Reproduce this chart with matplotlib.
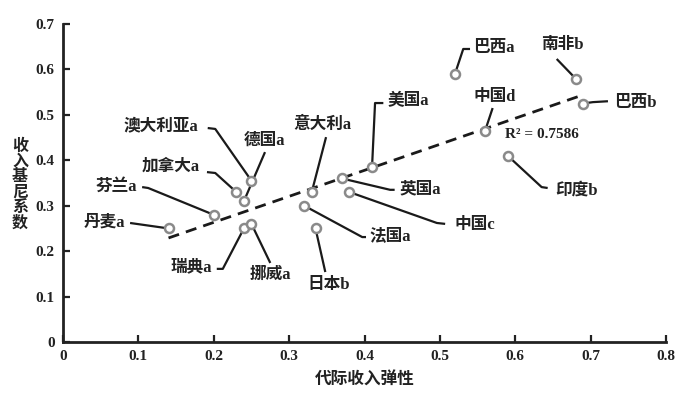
import matplotlib
matplotlib.use("Agg")
import matplotlib.pyplot as plt
import numpy as np

# ---- data ----
labels = ["丹麦a", "芬兰a", "加拿大a", "澳大利亚a", "德国a", "瑞典a", "挪威a",
          "意大利a", "英国a", "中国c", "美国a", "法国a", "日本b",
          "巴西a", "南非b", "巴西b", "中国d", "印度b"]
ige = [0.14, 0.20, 0.23, 0.25, 0.24, 0.24, 0.25,
       0.33, 0.37, 0.38, 0.41, 0.32, 0.335,
       0.52, 0.68, 0.69, 0.56, 0.59]
gini = [0.25, 0.28, 0.33, 0.355, 0.31, 0.25, 0.26,
        0.33, 0.36, 0.33, 0.385, 0.30, 0.25,
        0.59, 0.58, 0.525, 0.465, 0.41]
trend_x = [0.14, 0.69]
trend_y = [0.229, 0.544]
r2_text = "R² = 0.7586"
xticks = [0, 0.1, 0.2, 0.3, 0.4, 0.5, 0.6, 0.7, 0.8]
yticks = [0, 0.1, 0.2, 0.3, 0.4, 0.5, 0.6, 0.7]
xlabel = "代际收入弹性"
ylabel = "收入基尼系数"

# ---- label layout: (text x, text y, ha, leader-line elbow points) ----
layout = {
    "丹麦a":   (0.082, 0.262, "right",  [(0.089, 0.262)]),
    "芬兰a":   (0.098, 0.341, "right",  [(0.105, 0.341), (0.113, 0.339)]),
    "加拿大a": (0.182, 0.385, "right",  [(0.191, 0.374), (0.202, 0.372)]),
    "澳大利亚a": (0.180, 0.475, "right", [(0.192, 0.471), (0.202, 0.469)]),
    "德国a":   (0.267, 0.442, "center", [(0.268, 0.418)]),
    "瑞典a":   (0.198, 0.165, "right",  [(0.204, 0.161), (0.212, 0.161)]),
    "挪威a":   (0.275, 0.147, "center", [(0.275, 0.174)]),
    "意大利a": (0.344, 0.478, "center", [(0.349, 0.451)]),
    "英国a":   (0.447, 0.335, "left",   [(0.440, 0.335), (0.434, 0.335)]),
    "中国c":   (0.520, 0.257, "left",   [(0.507, 0.260), (0.496, 0.262)]),
    "美国a":   (0.431, 0.530, "left",   [(0.425, 0.526), (0.414, 0.526)]),
    "法国a":   (0.407, 0.233, "left",   [(0.402, 0.231), (0.397, 0.231)]),
    "日本b":   (0.352, 0.125, "center", [(0.348, 0.154)]),
    "巴西a":   (0.544, 0.647, "left",   [(0.540, 0.645), (0.531, 0.645)]),
    "南非b":   (0.663, 0.654, "center", [(0.655, 0.623)]),
    "巴西b":   (0.731, 0.526, "left",   [(0.723, 0.530), (0.703, 0.528)]),
    "中国d":   (0.573, 0.539, "center", [(0.570, 0.515)]),
    "印度b":   (0.653, 0.334, "left",   [(0.643, 0.339), (0.635, 0.341)]),
}

fam = ["Liberation Serif", "Noto Sans CJK SC"]
plt.rcParams["font.family"] = fam

fig = plt.figure(figsize=(6.92, 3.93), dpi=100)
ax = fig.add_axes([63 / 692, 51 / 393, 603 / 692, 318 / 393])
ax.set_xlim(0, 0.8)
ax.set_ylim(0, 0.7)

# leader lines
for lab, x, y in zip(labels, ige, gini):
    tx, ty, ha, elbows = layout[lab]
    pts = list(elbows) + [(x, y)]
    ax.plot([p[0] for p in pts], [p[1] for p in pts], color="#1a1a1a",
            lw=1.6, zorder=2, solid_capstyle="butt")
    ax.text(tx, ty, lab, ha=ha, va="center", fontsize=12,
            family=["Liberation Serif", "Noto Sans CJK SC"], weight="bold",
            color="#222222", zorder=4)

# trend line
ax.plot(trend_x, trend_y, color="#1a1a1a", lw=2.0, ls=(0, (4, 2.6)), zorder=2)

# points
ax.scatter(ige, gini, s=42, facecolor="white", edgecolor="#8a8a8a",
           linewidth=1.8, zorder=3)

ax.text(0.586, 0.456, r2_text, ha="left", va="center", fontsize=11,
        family="Liberation Serif", weight="bold", color="#222222")

for s in ["top", "right"]:
    ax.spines[s].set_visible(False)
for s in ["left", "bottom"]:
    ax.spines[s].set_linewidth(2.0)
    ax.spines[s].set_color("#222222")
ax.set_xticks(xticks)
ax.set_yticks(yticks)
ax.set_xticklabels([("0" if v == 0 else f"{v:.1f}") for v in xticks])
ax.set_yticklabels([("0" if v == 0 else f"{v:.1f}") for v in yticks])
ax.tick_params(direction="in", length=5, width=1.6, color="#222222",
               labelsize=11, labelcolor="#222222", pad=6)
for t in ax.get_xticklabels() + ax.get_yticklabels():
    t.set_fontweight("bold")

fig.text(365 / 692, 1 - 381 / 393, xlabel, ha="center", va="center",
         fontsize=12, weight="bold", family=fam, color="#222222")
fig.text(20 / 692, 1 - 185 / 393, "\n".join(ylabel), ha="center", va="center",
         fontsize=11.5, weight="bold", family=fam, color="#222222",
         linespacing=0.95)

fig.savefig("out.png", dpi=100, facecolor="white")
